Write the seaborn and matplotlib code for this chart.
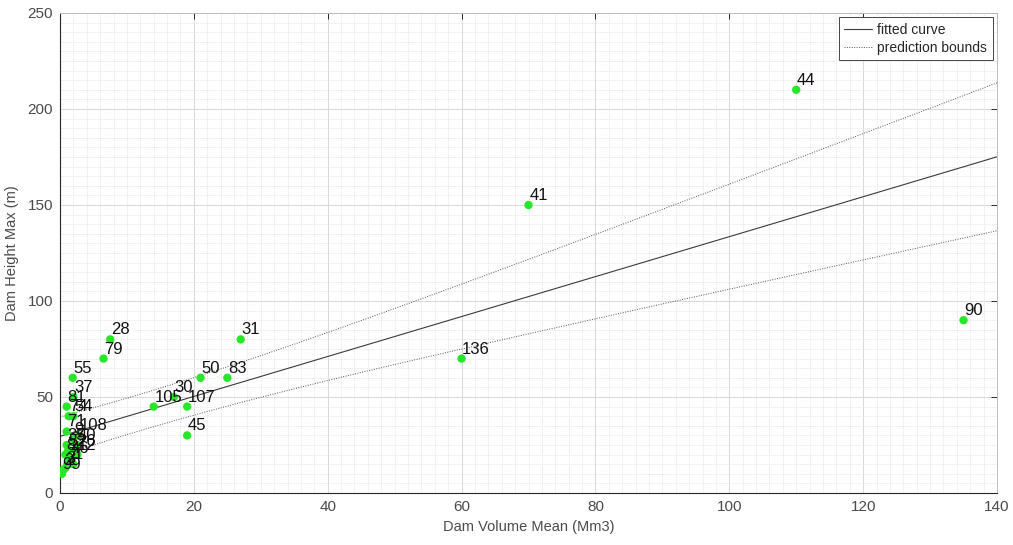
import numpy as np
import pandas as pd
import matplotlib
matplotlib.use("Agg")
import matplotlib.pyplot as plt
from matplotlib.ticker import MultipleLocator
import seaborn as sns

# Dam records: label, mean volume (Mm3), maximum height (m)
dam_ids = ["44", "41", "90", "136", "31", "28", "79", "55", "50", "83",
           "30", "105", "107", "45", "37", "81", "74", "54", "71", "108",
           "9", "35", "40", "52", "26", "12", "8", "46", "1", "7", "3", "2", "99"]
volume = [110, 70, 135, 60, 27, 7.5, 6.5, 1.9, 21, 25,
          17, 14, 19, 19, 2.0, 1.0, 1.3, 2.0, 1.0, 2.8,
          2.0, 1.0, 2.5, 1.2, 2.4, 2.6, 0.8, 1.5, 2.0, 1.1, 0.8, 0.5, 0.3]
height = [210, 150, 90, 70, 80, 80, 70, 60, 60, 60,
          50, 45, 45, 30, 50, 45, 40, 40, 32, 30,
          28, 25, 25, 22, 22, 20, 20, 18, 15, 15, 13, 12, 10]

# Linear fit and prediction band parameters
fit_intercept = 29.5
fit_slope = 1.04
band_a = 90.0
band_b = 0.085
band_center = 12.0

x_ticks = [0, 20, 40, 60, 80, 100, 120, 140]
y_ticks = [0, 50, 100, 150, 200, 250]

sns.set_theme(style="white")
plt.rcParams["font.family"] = ["Liberation Sans", "DejaVu Sans"]

df = pd.DataFrame({"id": dam_ids, "volume": volume, "height": height})

xs = np.linspace(0, 140, 300)
fitted = fit_intercept + fit_slope * xs
half = np.sqrt(band_a + band_b * (xs - band_center) ** 2)
curve = pd.DataFrame({"x": xs, "fit": fitted, "upper": fitted + half, "lower": fitted - half})

fig = plt.figure(figsize=(10.13, 5.45), dpi=100)
ax = fig.add_axes([60 / 1013, 1 - 493 / 545, (997 - 60) / 1013, (493 - 13) / 545])

axis_col = "#262626"
tick_col = "#4a4a4a"

# grid
ax.set_axisbelow(True)
ax.xaxis.set_minor_locator(MultipleLocator(2))
ax.yaxis.set_minor_locator(MultipleLocator(5))
ax.grid(which="major", color="#d8d8d8", linewidth=0.7)
ax.grid(which="minor", color="#e4e4e4", linewidth=0.5, linestyle=(0, (2, 1)))

sns.scatterplot(data=df, x="volume", y="height", ax=ax, color="#28e628",
                s=36, edgecolor="none", linewidth=0, zorder=3, legend=False)

sns.lineplot(data=curve, x="x", y="fit", ax=ax, color="#3a3a3a", linewidth=0.8,
             label="fitted curve", zorder=2)
sns.lineplot(data=curve, x="x", y="upper", ax=ax, color="#555555", linewidth=0.7,
             linestyle=(0, (1, 1.5)), label="prediction bounds", zorder=2)
sns.lineplot(data=curve, x="x", y="lower", ax=ax, color="#555555", linewidth=0.7,
             linestyle=(0, (1, 1.5)), label="_nolegend_", zorder=2)

for lab, xv, yv in zip(dam_ids, volume, height):
    ax.text(xv + 0.1, yv + 5, lab, fontsize=12, color="#111111",
            ha="left", va="center", zorder=4)

ax.set_xlim(0, 140)
ax.set_ylim(0, 250)
ax.set_xticks(x_ticks)
ax.set_yticks(y_ticks)
ax.tick_params(axis="both", which="major", direction="in", length=4, width=0.7,
               colors=axis_col, labelcolor=tick_col, labelsize=11, top=True, right=True,
               labeltop=False, labelright=False, pad=5)
ax.tick_params(axis="both", which="minor", length=0)
for side in ["left", "bottom"]:
    ax.spines[side].set_color(axis_col)
    ax.spines[side].set_linewidth(0.8)
for side in ["top", "right"]:
    ax.spines[side].set_color("#bdbdbd")
    ax.spines[side].set_linewidth(0.7)

ax.set_xlabel("Dam Volume Mean (Mm3)", fontsize=10.5, color=tick_col, labelpad=4)
ax.set_ylabel("Dam Height Max (m)", fontsize=10.5, color=tick_col, labelpad=6)

leg = ax.legend(loc="upper right", fontsize=10, frameon=True, fancybox=False,
                handlelength=2.0, borderpad=0.4, labelspacing=0.3,
                borderaxespad=0.3, handletextpad=0.4)
leg.get_frame().set_edgecolor("#444444")
leg.get_frame().set_linewidth(0.7)
leg.get_frame().set_facecolor("white")
leg.get_frame().set_alpha(1)

fig.savefig("out.png", dpi=100)
